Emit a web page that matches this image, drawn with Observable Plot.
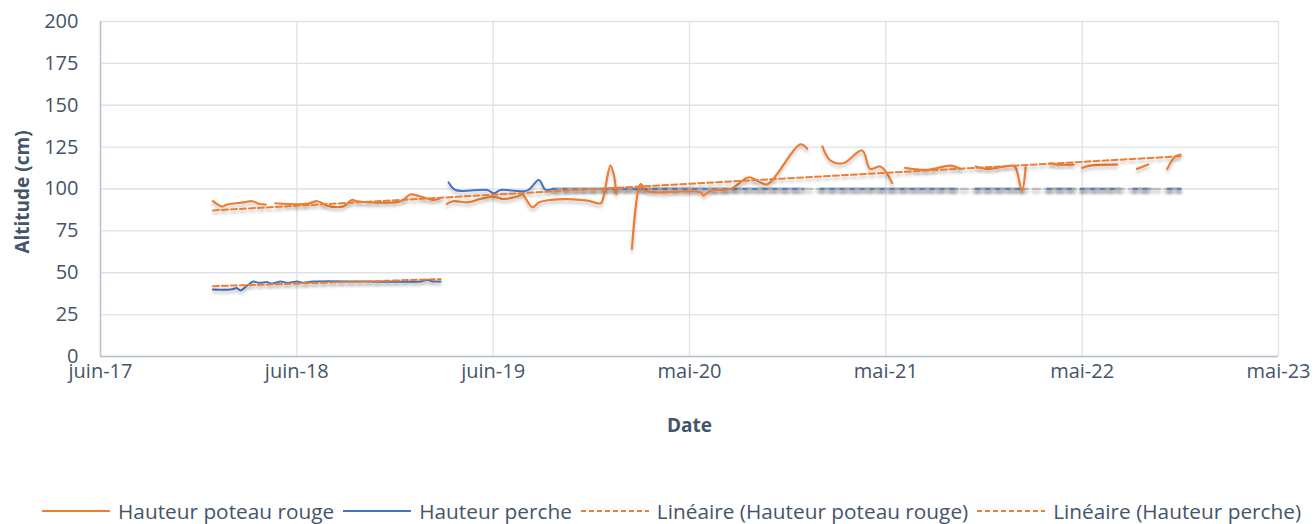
<!DOCTYPE html>
<html><head><meta charset="utf-8">
<script src="https://cdn.jsdelivr.net/npm/d3@7"></script>
<script src="https://cdn.jsdelivr.net/npm/@observablehq/plot@0.6"></script>
<style>
body{margin:0;background:#fff;font-family:"Open Sans",sans-serif;}
#chart{width:1314px;height:524px;position:relative;overflow:hidden;}
#legend{display:flex;justify-content:flex-start;align-items:center;height:26px;line-height:26px;font-size:20.8px;color:#44546A;gap:9px;white-space:nowrap;margin-left:42px;}
.item{display:flex;align-items:center;gap:8px;}
.item svg{display:block;}
</style></head><body><div id="chart"></div>
<script>
// ---- data ----
const rougeDates = ["2017-12-27","2018-01-13","2018-01-22","2018-02-22","2018-03-10","2018-03-22","2018-04-04","2018-04-13","2018-04-22","2018-06-20","2018-07-09","2018-07-27","2018-08-15","2018-08-27","2018-09-12","2018-09-21","2018-12-11","2018-12-29","2019-01-17","2019-02-10","2019-02-23","2019-03-01","2019-03-07","2019-03-19","2019-04-14","2019-05-08","2019-05-30","2019-06-11","2019-06-20","2019-07-16","2019-07-25","2019-08-13","2019-08-25","2019-09-16","2019-10-17","2019-11-23","2019-12-18","2019-12-23","2020-01-05","2020-01-11","2020-01-16","2020-02-01","2020-02-14","2020-03-01","2020-03-10","2020-03-25","2020-06-20","2020-06-26","2020-07-09","2020-08-15","2020-09-18","2020-10-04","2020-10-22","2020-12-23","2021-01-05","2021-01-20","2021-02-02","2021-02-17","2021-03-13","2021-04-17","2021-05-02","2021-05-21","2021-06-12","2021-06-25","2021-07-06","2021-08-16","2021-09-28","2021-10-17","2021-11-01","2021-11-14","2021-12-05","2021-12-30","2022-01-21","2022-01-27","2022-02-08","2022-02-15","2022-03-10","2022-04-02","2022-04-15","2022-05-15","2022-05-23","2022-05-31","2022-06-15","2022-08-04","2022-08-20","2022-09-10","2022-10-01","2022-10-20","2022-11-05","2022-11-20","2022-11-30"];
const rougeValues = [92.7,89.5,90.7,92,92.7,91.2,90.7,null,91.5,91.1,92.7,90.1,89.1,89.7,93.5,92.7,92.7,96.7,95.5,93.5,94.7,null,91.1,92.7,92,94,95.5,94.7,94,95.5,96.7,89.1,92,93.5,94,93.1,91.5,95.1,114,109,97,null,64.3,103,99,98.1,98.1,96.1,99,100,107,105,102.7,126.6,124,null,125.4,117,115.4,123,112,113.4,103.5,null,112.6,111.4,114,112,null,113.4,112,113,114,113,99,113,null,115.4,114.6,114.6,null,112.6,114,114.6,null,112,114.6,null,112,119.4,120.6];

const percheDates = ["2017-12-27","2018-01-29","2018-02-10","2018-02-16","2018-03-01","2018-03-12","2018-03-22","2018-04-07","2018-04-16","2018-05-02","2018-05-14","2018-06-02","2018-06-13","2018-07-02","2019-01-17","2019-01-29","2019-02-10","2019-02-23","2019-03-02","2019-03-10","2019-03-23","2019-05-21","2019-06-02","2019-06-15","2019-08-03","2019-08-25","2019-09-06","2019-09-20"];
const percheValues = [40,40,40.8,39.4,42.4,44.8,44,44.4,43.6,44.8,44,44.8,44,44.8,44.8,45.6,44.8,44.8,null,104,99.4,99.4,97.5,99.4,99,105.4,99.6,100];

const percheFlatDates = ["2019-09-20","2020-12-29","2021-01-14","2021-01-29","2021-10-11","2021-10-25","2021-11-14","2022-02-11","2022-03-01","2022-03-27","2022-05-15","2022-05-20","2022-05-28","2022-08-10","2022-08-25","2022-09-03","2022-10-05","2022-10-20","2022-11-06","2022-11-30"];
const percheFlatValues = [100,100,null,100,100,null,100,100,null,100,100,null,100,100,null,100,100,null,100,100];

const trendRougeDates = ["2017-12-27","2022-11-30"];
const trendRougeValues = [87.2,119.5];
const trendPercheDates = ["2017-12-27","2019-02-23"];
const trendPercheValues = [42,46.2];

const xTickDates = ["2017-06-01","2018-06-01","2019-06-01","2020-05-31","2021-05-31","2022-05-31","2023-05-31"];
const xTickLabels = ["juin-17","juin-18","juin-19","mai-20","mai-21","mai-22","mai-23"];
const yTicks = [0,25,50,75,100,125,150,175,200];

const seriesNames = ["Hauteur poteau rouge","Hauteur perche","Linéaire (Hauteur poteau rouge)","Linéaire (Hauteur perche)"];
const seriesColors = ["#ED7D31","#4472C4","#ED7D31","#ED7D31"];

// ---- build ----
const P = d3.utcParse("%Y-%m-%d");
const rows = (ds, vs) => ds.map((d, i) => ({date: P(d), value: vs[i]}));
const rouge = rows(rougeDates, rougeValues);
const perche = rows(percheDates, percheValues);
const percheFlat = rows(percheFlatDates, percheFlatValues);
const trendR = rows(trendRougeDates, trendRougeValues);
const trendP = rows(trendPercheDates, trendPercheValues);
const ticks = xTickDates.map(P);
const flatSpan = [percheFlat[0], percheFlat[percheFlat.length - 1]];
const textColor = "#44546A";

const plot = Plot.plot({
  width: 1314, height: 498,
  marginLeft: 100, marginRight: 36, marginTop: 21, marginBottom: 142,
  style: {fontFamily: "Open Sans", fontSize: "20px", color: textColor, background: "#fff", overflow: "visible"},
  x: {type: "utc", domain: [ticks[0], ticks[ticks.length - 1]], ticks: ticks,
      tickFormat: d => xTickLabels[ticks.findIndex(t => +t === +d)], tickSize: 0, tickPadding: 7, label: null},
  y: {domain: [0, 200], ticks: yTicks, tickSize: 0, tickPadding: 22, label: null},
  marks: [
    Plot.gridY(yTicks, {stroke: "#dde1e8", strokeOpacity: 1, strokeWidth: 1.3}),
    Plot.gridX(ticks, {stroke: "#dde1e8", strokeOpacity: 1, strokeWidth: 1.3}),
    Plot.ruleX([ticks[0]], {stroke: "#b9c1cd", strokeWidth: 1.5}),
    Plot.ruleY([0], {stroke: "#b9c1cd", strokeWidth: 1.5}),
    Plot.line(flatSpan, {x: "date", y: "value", stroke: "#bdbdbd", strokeWidth: 2.5, strokeDasharray: "7,5"}),
    Plot.line(percheFlat, {x: "date", y: "value", stroke: "#a3a8b0", strokeWidth: 3}),
    Plot.line(percheFlat, {x: "date", y: "value", stroke: "#4472C4", strokeWidth: 1.5, strokeDasharray: "4,6"}),
    Plot.line(perche, {x: "date", y: "value", stroke: "#4472C4", strokeWidth: 2, curve: "catmull-rom"}),
    Plot.line(rouge, {x: "date", y: "value", stroke: "#ED7D31", strokeWidth: 2.2, curve: "catmull-rom"}),
    Plot.line(trendR, {x: "date", y: "value", stroke: "#ED7D31", strokeWidth: 2, strokeDasharray: "6,3"}),
    Plot.line(trendP, {x: "date", y: "value", stroke: "#ED7D31", strokeWidth: 2, strokeDasharray: "6,3"}),
    Plot.text(["Date"], {text: d => d, frameAnchor: "bottom", lineAnchor: "middle", dy: 69, fontWeight: "bold", fontSize: 19, fill: textColor}),
    Plot.text(["Altitude (cm)"], {text: d => d, frameAnchor: "left", textAnchor: "middle", dx: -78, dy: 3, rotate: -90, fontWeight: "bold", fontSize: 19, fill: textColor})
  ]
});

// soft drop shadow for series lines (user-space region so flat lines are not clipped)
const ns = "http://www.w3.org/2000/svg";
const defs = document.createElementNS(ns, "defs");
defs.innerHTML = '<filter id="shadow" filterUnits="userSpaceOnUse" x="0" y="0" width="1314" height="498"><feDropShadow dx="0" dy="3" stdDeviation="1.8" flood-color="#000" flood-opacity="0.22"/></filter>';
plot.insertBefore(defs, plot.firstChild);
plot.querySelectorAll('g[aria-label="line"]').forEach(g => g.setAttribute("filter", "url(#shadow)"));

const chart = document.getElementById("chart");
chart.appendChild(plot);

// legend
const legend = document.createElement("div");
legend.id = "legend";
seriesNames.forEach((name, i) => {
  const item = document.createElement("div");
  item.className = "item";
  const dash = i >= 2 ? ' stroke-dasharray="5,3"' : '';
  item.innerHTML = `<svg width="68" height="10"><line x1="0" y1="5" x2="68" y2="5" stroke="${seriesColors[i]}" stroke-width="2"${dash}/></svg><span>${name}</span>`;
  legend.appendChild(item);
});
chart.appendChild(legend);
</script>
</body></html>
